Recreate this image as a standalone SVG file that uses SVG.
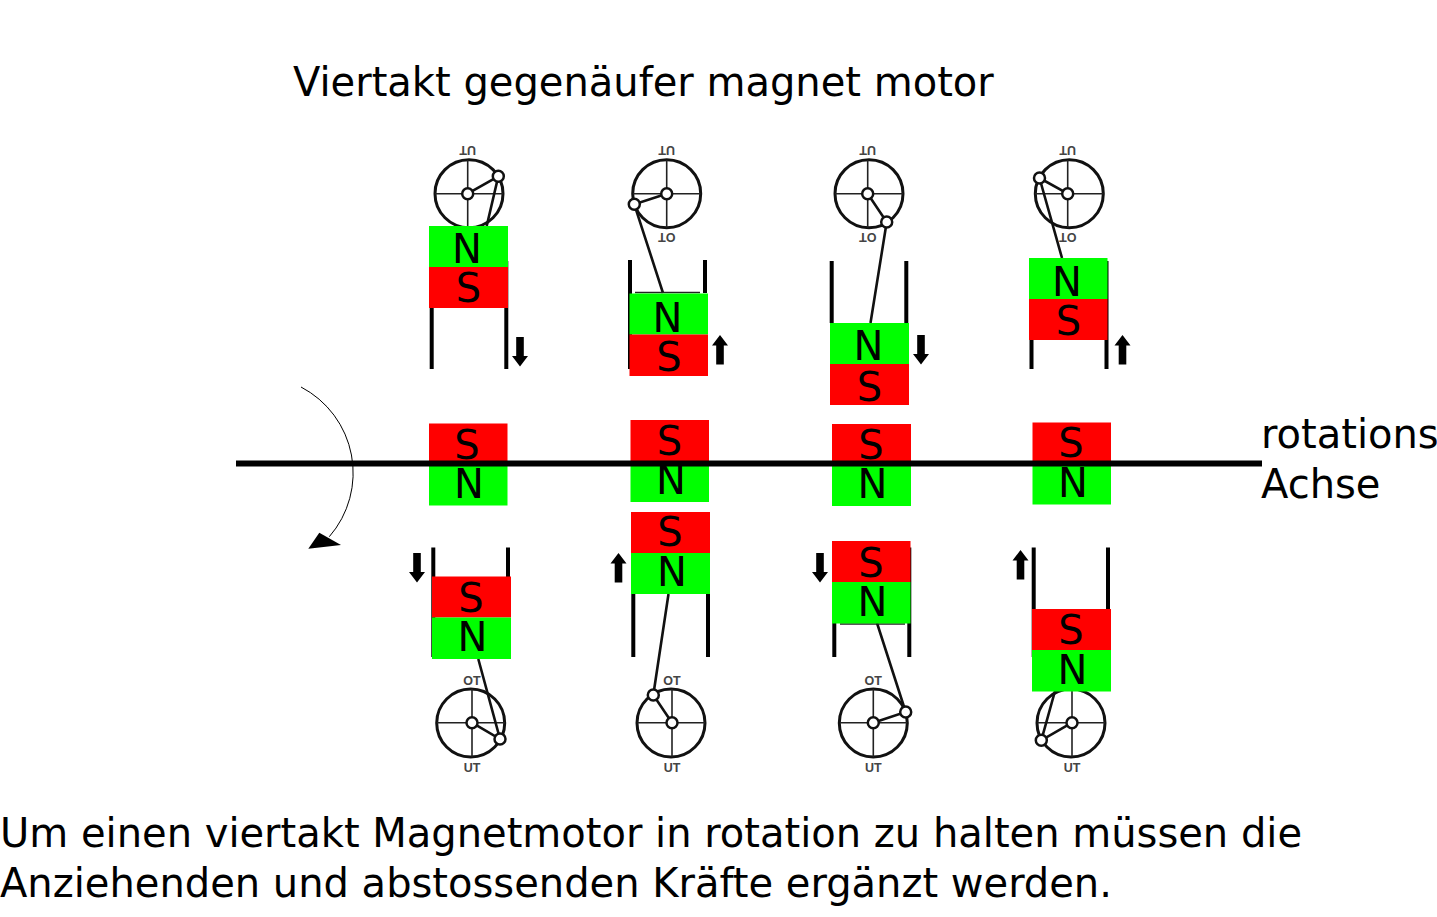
<svg xmlns="http://www.w3.org/2000/svg" width="1437" height="917" viewBox="0 0 1437 917">
<style>
text{font-family:"DejaVu Sans","Liberation Sans",sans-serif;fill:#000}
.t{font-size:40px}
.m{font-size:40px;text-anchor:middle}
.g{fill:#0f0}.r{fill:#f00}
.wall{stroke:#000;stroke-width:4;fill:none}
.wheel{fill:none;stroke:#111;stroke-width:3}
.spoke{stroke:#222;stroke-width:1.6;fill:none}
.crank{stroke:#111;stroke-width:2.6;fill:none}
.pin{fill:#fff;stroke:#111;stroke-width:2.5}
.piston{stroke:#222;stroke-width:1.5;fill:none}
.lab{font-family:"Liberation Sans",sans-serif;font-size:12.5px;font-weight:bold;fill:#444;text-anchor:middle}
</style>
<defs>
<polygon id="down" points="-3.800,0 3.800,0 3.800,19 8,19 0,29.500 -8,19 -3.800,19" fill="#000"/>
<polygon id="up" points="0,0 8,10.500 3.800,10.500 3.800,29.500 -3.800,29.500 -3.800,10.500 -8,10.500" fill="#000"/>
</defs>
<rect width="1437" height="917" fill="#fff"/>

<g id="top1">
<circle class="wheel" cx="469" cy="193.7" r="34"/>
<path class="spoke" d="M435 193.7H503M467.7 160V227.7"/>
<path class="crank" d="M467.7 193.7L498.3 176.3L486.7 226"/>
<circle class="pin" cx="467.7" cy="193.7" r="5.5"/><circle class="pin" cx="498.3" cy="176.3" r="5.5"/>
<text class="lab" transform="rotate(180 467.7 150)" x="467.7" y="154.500">UT</text>
<path class="wall" d="M431.7 261V369M506.3 261V369"/>
<rect class="g" x="429" y="226" width="79" height="41"/><rect class="r" x="429" y="267" width="79" height="41"/>
<text class="m" x="467" y="262.7">N</text><text class="m" x="468.500" y="302">S</text>
<use href="#down" x="520" y="337"/>
</g>

<g id="top2">
<circle class="wheel" cx="666.700" cy="193.700" r="34"/>
<path class="spoke" d="M633 193.700H700.500M666.700 160V227.700"/>
<path class="crank" d="M666.700 193.700L634.300 204.300L663 293"/>
<circle class="pin" cx="666.700" cy="193.700" r="5.500"/><circle class="pin" cx="634.300" cy="204.300" r="5.500"/>
<text class="lab" transform="rotate(180 666.700 150)" x="666.700" y="154.500">UT</text>
<text class="lab" transform="rotate(180 666.700 237)" x="666.700" y="241.500">OT</text>
<path class="wall" d="M630 260V369M705 260V293"/>
<path class="piston" d="M635 292.500H700"/>
<rect class="g" x="629.500" y="293.500" width="78.500" height="41"/><rect class="r" x="629.500" y="334.500" width="78.500" height="41.500"/>
<text class="m" x="667.500" y="331.500">N</text><text class="m" x="669" y="370.500">S</text>
<use href="#up" x="720" y="335"/>
</g>

<g id="top3">
<circle class="wheel" cx="869" cy="193.700" r="34"/>
<path class="spoke" d="M835 193.700H903M867.700 160V227.700"/>
<path class="crank" d="M867.700 193.700L886.700 222L870.500 323"/>
<circle class="pin" cx="867.700" cy="193.700" r="5.500"/><circle class="pin" cx="886.700" cy="222" r="5.500"/>
<text class="lab" transform="rotate(180 867.700 150)" x="867.700" y="154.500">UT</text>
<text class="lab" transform="rotate(180 867.700 237)" x="867.700" y="241.500">OT</text>
<path class="wall" d="M831.700 261V323M906.300 261V323"/>
<rect class="g" x="830" y="323" width="79" height="41"/><rect class="r" x="830" y="364" width="79" height="41"/>
<text class="m" x="868.500" y="360">N</text><text class="m" x="869.500" y="400.500">S</text>
<use href="#down" x="921" y="335"/>
</g>

<g id="top4">
<circle class="wheel" cx="1069.300" cy="193.700" r="34"/>
<path class="spoke" d="M1035 193.700H1103.500M1067.700 160V227.700"/>
<path class="crank" d="M1067.700 193.700L1039.500 178L1062 258"/>
<circle class="pin" cx="1067.700" cy="193.700" r="5.500"/><circle class="pin" cx="1039.500" cy="178" r="5.500"/>
<text class="lab" transform="rotate(180 1067.700 150)" x="1067.700" y="154.500">UT</text>
<text class="lab" transform="rotate(180 1067.700 237)" x="1067.700" y="241.500">OT</text>
<path class="wall" d="M1031.500 340V369M1106.500 261V369"/>
<rect class="g" x="1029" y="258" width="78.500" height="41"/><rect class="r" x="1029" y="299" width="78.500" height="41"/>
<text class="m" x="1067" y="295.700">N</text><text class="m" x="1068.500" y="334.500">S</text>
<use href="#up" x="1122.500" y="335"/>
</g>

<g id="mid1"><rect class="r" x="429" y="423.500" width="78.500" height="41"/><rect class="g" x="429" y="464.500" width="78.500" height="41"/>
<text class="m" x="467" y="458.500">S</text><text class="m" x="469" y="497.500">N</text></g>
<g id="mid2"><rect class="r" x="630.500" y="420" width="78.500" height="41"/><rect class="g" x="630.500" y="461" width="78.500" height="41"/>
<text class="m" x="669.500" y="455">S</text><text class="m" x="671" y="494">N</text></g>
<g id="mid3"><rect class="r" x="832" y="424" width="79" height="41"/><rect class="g" x="832" y="465" width="79" height="41"/>
<text class="m" x="871" y="458.500">S</text><text class="m" x="872.500" y="498">N</text></g>
<g id="mid4"><rect class="r" x="1032.500" y="422.500" width="78.500" height="41"/><rect class="g" x="1032.500" y="463.500" width="78.500" height="41"/>
<text class="m" x="1071" y="457">S</text><text class="m" x="1073" y="496.500">N</text></g>

<g id="bottom1">
<circle class="wheel" cx="470.700" cy="723" r="34"/>
<path class="spoke" d="M437 722.700H505M472 689V756.700"/>
<path class="crank" d="M472 722.700L500 739L478.300 659"/>
<circle class="pin" cx="472" cy="722.700" r="5.500"/><circle class="pin" cx="500" cy="739" r="5.500"/>
<text class="lab" x="472" y="684.500">OT</text><text class="lab" x="472" y="771.500">UT</text>
<path class="wall" d="M433.300 547.500V657M508 547.500V577"/>
<rect class="r" x="432" y="576.500" width="79" height="41"/><rect class="g" x="432" y="617.500" width="79" height="41.500"/>
<text class="m" x="471" y="611.500">S</text><text class="m" x="472.500" y="651">N</text>
<use href="#down" x="417" y="553"/>
</g>

<g id="bottom2">
<circle class="wheel" cx="671" cy="723" r="34"/>
<path class="spoke" d="M637.500 722.700H705M672 689V756.700"/>
<path class="crank" d="M672 722.700L653.300 695L668.500 594"/>
<circle class="pin" cx="672" cy="722.700" r="5.500"/><circle class="pin" cx="653.300" cy="695" r="5.500"/>
<text class="lab" x="672" y="684.500">OT</text><text class="lab" x="672" y="771.500">UT</text>
<path class="wall" d="M633.300 594V657M708 594V657"/>
<rect class="r" x="631" y="512" width="79" height="41"/><rect class="g" x="631" y="553" width="79" height="41"/>
<text class="m" x="670" y="546">S</text><text class="m" x="672" y="585.500">N</text>
<use href="#up" x="618.500" y="553"/>
</g>

<g id="bottom3">
<circle class="wheel" cx="873.300" cy="723" r="34"/>
<path class="spoke" d="M840 722.700H907M873.300 689V756.700"/>
<path class="crank" d="M873.300 722.700L905.700 712L877 623"/>
<circle class="pin" cx="873.300" cy="722.700" r="5.500"/><circle class="pin" cx="905.700" cy="712" r="5.500"/>
<text class="lab" x="873.300" y="684.500">OT</text><text class="lab" x="873.300" y="771.500">UT</text>
<path class="wall" d="M834.300 623V657M909.300 547.500V657"/>
<path class="piston" d="M840 624H905"/>
<rect class="r" x="832" y="541" width="78.500" height="41"/><rect class="g" x="832" y="582" width="78.500" height="41.500"/>
<text class="m" x="871" y="576.500">S</text><text class="m" x="872.500" y="615.500">N</text>
<use href="#down" x="820" y="553"/>
</g>

<g id="bottom4">
<circle class="wheel" cx="1071" cy="723" r="34"/>
<path class="spoke" d="M1037.500 722.700H1105M1072 689V756.700"/>
<path class="crank" d="M1072 722.700L1041.300 740.300L1055 691"/>
<circle class="pin" cx="1072" cy="722.700" r="5.500"/><circle class="pin" cx="1041.300" cy="740.300" r="5.500"/>
<text class="lab" x="1072" y="771.500">UT</text>
<path class="wall" d="M1033.700 547.500V657M1108 547.500V610"/>
<rect class="r" x="1032" y="609" width="79" height="41"/><rect class="g" x="1032" y="650" width="79" height="41.500"/>
<text class="m" x="1071" y="643.500">S</text><text class="m" x="1072.500" y="684">N</text>
<use href="#up" x="1020.500" y="550"/>
</g>

<g id="connectors">
<path d="M236 463.500H1262" stroke="#000" stroke-width="6" fill="none"/>
<path d="M301 387A97 97 0 0 1 329.300 536.700" stroke="#000" stroke-width="1" fill="none"/>
<polygon points="308.300,548.700 319.300,532.700 341,545" fill="#000"/>
</g>

<g id="labels">
<text class="t" x="293" y="96">Viertakt gegenäufer magnet motor</text>
<text class="t" x="1261" y="448">rotations</text>
<text class="t" x="1261" y="498">Achse</text>
<text class="t" x="0" y="847">Um einen viertakt Magnetmotor in rotation zu halten müssen die</text>
<text class="t" x="0" y="897">Anziehenden und abstossenden Kräfte ergänzt werden.</text>
</g>
</svg>
